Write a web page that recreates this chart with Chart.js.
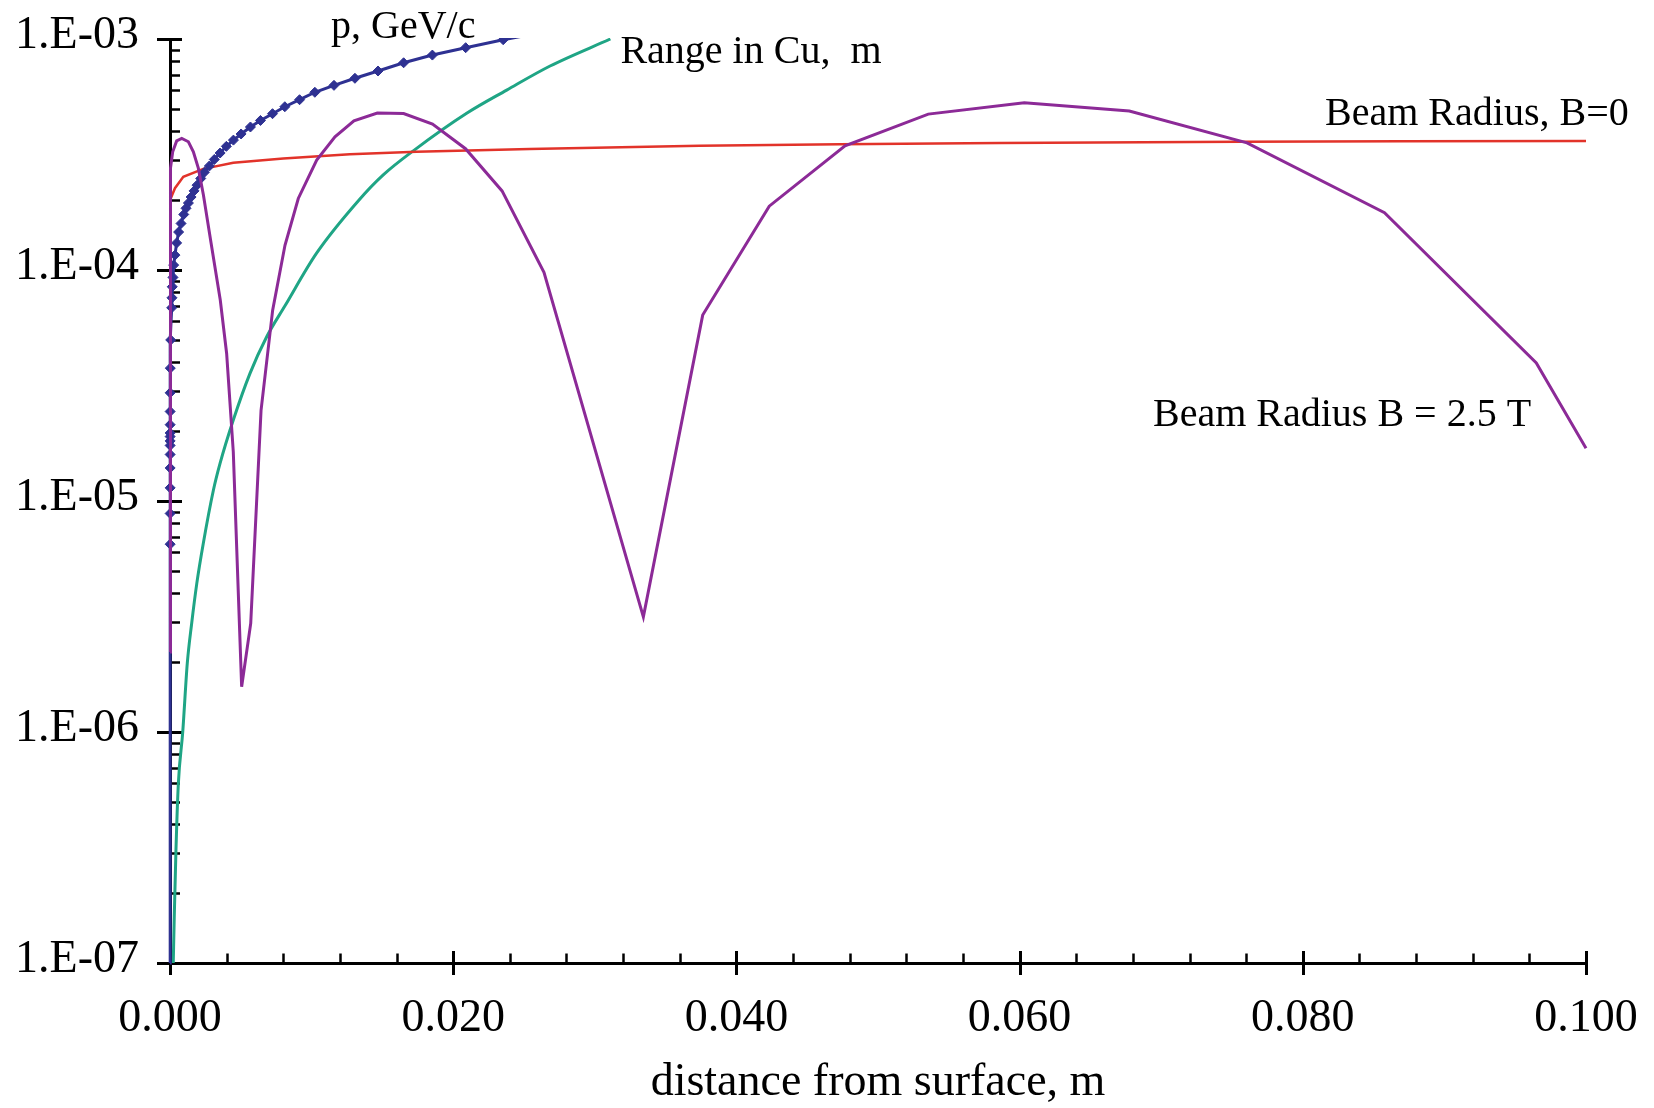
<!DOCTYPE html>
<html>
<head>
<meta charset="utf-8">
<title>Beam radius and momentum vs depth in copper</title>
<script src="https://cdn.jsdelivr.net/npm/chart.js@4.4.1/dist/chart.umd.min.js"></script>
<style>
  html, body { margin: 0; padding: 0; background: #ffffff; }
  #wrap { width: 1654px; height: 1108px; }
</style>
</head>
<body>
<div id="wrap"><canvas id="chart" width="1654" height="1108"></canvas></div>
<script>
// ---- data ----------------------------------------------------------------
// momentum p (GeV/c) vs distance from surface (m)
const momDist = [0, 0.00001, 0.00001, 0.00001, 0.00001, 0.00001, 0.00001, 0.00001, 0.00001,
  0.00001, 0.00001, 0.00001, 0.00001, 0.00002, 0.00005, 0.00012, 0.00014, 0.00016, 0.00021,
  0.00026, 0.00035, 0.00047, 0.00061, 0.00078, 0.00097, 0.00113, 0.00130, 0.00149, 0.00170,
  0.00191, 0.00217, 0.00243, 0.00278, 0.00313, 0.00354, 0.00398, 0.00448, 0.00502, 0.00568,
  0.00639, 0.00724, 0.00811, 0.00915, 0.01023, 0.01158, 0.01306, 0.01469, 0.0165, 0.01853,
  0.02088, 0.02353, 0.0264];
const momValue = [1e-7, 6.50e-6, 8.83e-6, 1.14e-5, 1.39e-5, 1.59e-5, 1.74e-5, 1.82e-5, 1.90e-5,
  1.97e-5, 2.14e-5, 2.44e-5, 2.94e-5, 3.76e-5, 4.98e-5, 6.86e-5, 7.58e-5, 8.46e-5, 9.29e-5,
  1.05e-4, 1.16e-4, 1.31e-4, 1.46e-4, 1.59e-4, 1.74e-4, 1.85e-4, 1.95e-4, 2.07e-4, 2.20e-4,
  2.33e-4, 2.49e-4, 2.65e-4, 2.82e-4, 3.01e-4, 3.21e-4, 3.43e-4, 3.65e-4, 3.88e-4, 4.16e-4,
  4.44e-4, 4.75e-4, 5.09e-4, 5.46e-4, 5.88e-4, 6.30e-4, 6.76e-4, 7.27e-4, 7.89e-4, 8.52e-4,
  9.17e-4, 9.93e-4, 1.07e-3];

// residual range in Cu (m)
const rangeDist = [0.00023, 0.0003, 0.00042, 0.00059, 0.0009, 0.00122, 0.00153, 0.00189,
  0.00235, 0.00306, 0.00353, 0.00447, 0.00565, 0.00683, 0.00811, 0.01034, 0.01332, 0.01506,
  0.01718, 0.02095, 0.02378, 0.02684, 0.0311];
const rangeValue = [1.0e-7, 1.58e-7, 3.07e-7, 5.98e-7, 1.0e-6, 1.98e-6, 2.95e-6, 4.39e-6,
  6.55e-6, 1.11e-5, 1.45e-5, 2.24e-5, 3.57e-5, 5.14e-5, 6.98e-5, 1.18e-4, 2.00e-4, 2.58e-4,
  3.28e-4, 4.77e-4, 6.01e-4, 7.64e-4, 1.0e-3];

// beam radius with no field (m)
const radius0Dist = [0, 0.00005, 0.00035, 0.00094, 0.00235, 0.00447, 0.0080, 0.0127, 0.0174,
  0.0254, 0.0374, 0.0473, 0.0586, 0.0756, 0.0869, 0.1];
const radius0Value = [1.12e-4, 2.04e-4, 2.26e-4, 2.53e-4, 2.74e-4, 2.91e-4, 3.04e-4, 3.17e-4,
  3.25e-4, 3.34e-4, 3.45e-4, 3.50e-4, 3.55e-4, 3.59e-4, 3.61e-4, 3.62e-4];

// beam radius in a 2.5 T field (m)
const radiusBDist = [0, 0.00002, 0.00005, 0.00019, 0.00047, 0.00083, 0.0013, 0.00165, 0.0020,
  0.00236, 0.0029, 0.00355, 0.0040, 0.00447, 0.00506, 0.0057, 0.00643, 0.00725, 0.00812,
  0.00906, 0.01036, 0.01165, 0.01299, 0.01464, 0.0165, 0.01854, 0.02087, 0.02345, 0.02641,
  0.03343, 0.03762, 0.04232, 0.04767, 0.05355, 0.06033, 0.06775, 0.07606, 0.08577, 0.09649,
  0.1];
const radiusBValue = [2.22e-6, 2.01e-4, 2.76e-4, 3.25e-4, 3.62e-4, 3.71e-4, 3.59e-4, 3.25e-4,
  2.76e-4, 2.11e-4, 1.31e-4, 7.41e-5, 4.35e-5, 1.63e-5, 1.57e-6, 2.95e-6, 2.47e-5, 6.70e-5,
  1.28e-4, 2.04e-4, 2.99e-4, 3.77e-4, 4.42e-4, 4.78e-4, 4.76e-4, 4.28e-4, 3.35e-4, 2.20e-4,
  9.78e-5, 3.15e-6, 6.38e-5, 1.89e-4, 3.45e-4, 4.73e-4, 5.30e-4, 4.88e-4, 3.55e-4, 1.77e-4,
  3.96e-5, 1.69e-5];

// axis ticks
const xTickValues = [0, 0.02, 0.04, 0.06, 0.08, 0.1];
const xTickLabels = ['0.000', '0.020', '0.040', '0.060', '0.080', '0.100'];
const yTickValues = [1e-7, 1e-6, 1e-5, 1e-4, 1e-3];
const yTickLabels = ['1.E-07', '1.E-06', '1.E-05', '1.E-04', '1.E-03'];

// curve labels, anchored in data coordinates (left edge, text baseline)
const labelTexts = ['p, GeV/c', 'Range in Cu,  m', 'Beam Radius, B=0', 'Beam Radius B = 2.5 T'];
const labelX = [0.01137, 0.03181, 0.08157, 0.06942];
const labelY = [1.01e-3, 7.85e-4, 4.24e-4, 2.11e-5];

// ---- drawing --------------------------------------------------------------
const FONT = "'Liberation Serif', 'Times New Roman', serif";
const X_MINOR_STEP = 0.004;

function points(xs, ys) {
  return xs.map((x, i) => ({ x: x, y: ys[i] }));
}

// tick marks: majors cross the axis line, minors point into the plot
const axisTicks = {
  id: 'axisTicks',
  beforeDatasetsDraw(chart) {
    const { ctx, chartArea: a, scales } = chart;
    const xs = scales.x, ys = scales.y;
    const seg = (x1, y1, x2, y2) => {
      ctx.beginPath(); ctx.moveTo(x1, y1); ctx.lineTo(x2, y2); ctx.stroke();
    };
    ctx.save();
    ctx.strokeStyle = '#000';
    ctx.lineCap = 'butt';

    ctx.lineWidth = 2.5;
    const nMinor = Math.round(0.1 / X_MINOR_STEP);
    for (let i = 1; i < nMinor; i++) {
      if (i % 5 === 0) continue;
      const px = Math.round(xs.getPixelForValue(i * X_MINOR_STEP)) + 0.5;
      seg(px, a.bottom, px, a.bottom - 9.5);
    }
    for (let e = -7; e < -3; e++) {
      const d = Math.pow(10, e);
      for (let k = 2; k <= 9; k++) {
        const py = Math.round(ys.getPixelForValue(k * d)) + 0.5;
        seg(a.left, py, a.left + 10, py);
      }
    }

    ctx.lineWidth = 3;
    xTickValues.forEach(v => {
      const px = Math.round(xs.getPixelForValue(v)) + 0.5;
      seg(px, a.bottom - 12, px, a.bottom + 12);
    });
    yTickValues.forEach(v => {
      const py = Math.round(ys.getPixelForValue(v)) + 0.5;
      seg(a.left - 13, py, a.left + 12, py);
    });
    ctx.restore();
  }
};

// text labels next to the curves
const curveLabels = {
  id: 'curveLabels',
  afterDatasetsDraw(chart) {
    const { ctx, scales } = chart;
    ctx.save();
    ctx.fillStyle = '#000';
    ctx.font = '40px ' + FONT;
    ctx.textAlign = 'left';
    ctx.textBaseline = 'alphabetic';
    labelTexts.forEach((t, i) => {
      ctx.fillText(t, scales.x.getPixelForValue(labelX[i]), scales.y.getPixelForValue(labelY[i]));
    });
    ctx.restore();
  }
};

const CLIP = { left: 8, top: 1, right: 6, bottom: 2 };

new Chart(document.getElementById('chart'), {
  type: 'line',
  data: {
    datasets: [
      {
        label: 'Beam Radius B = 2.5 T',
        data: points(radiusBDist, radiusBValue),
        borderColor: '#8c2a97',
        borderWidth: 3,
        pointRadius: 0,
        tension: 0,
        clip: CLIP
      },
      {
        label: 'p, GeV/c',
        data: points(momDist, momValue),
        borderColor: '#2e3192',
        backgroundColor: '#2e3192',
        borderWidth: 3,
        pointStyle: 'rectRot',
        pointRadius: c => (c.raw && c.raw.y > 1e-7 && c.raw.y < 1e-3 ? 5 : 0),
        pointBorderWidth: 1,
        pointBorderColor: '#2e3192',
        tension: 0,
        clip: CLIP
      },
      {
        label: 'Beam Radius, B=0',
        data: points(radius0Dist, radius0Value),
        borderColor: '#e2332a',
        borderWidth: 2.5,
        pointRadius: 0,
        tension: 0,
        clip: CLIP
      },
      {
        label: 'Range in Cu,  m',
        data: points(rangeDist, rangeValue),
        borderColor: '#1fa585',
        borderWidth: 3,
        pointRadius: 0,
        cubicInterpolationMode: 'monotone',
        clip: CLIP
      }
    ]
  },
  options: {
    responsive: false,
    animation: false,
    devicePixelRatio: 1,
    layout: { padding: { left: 0, right: 68, top: 39, bottom: 0 } },
    plugins: {
      legend: { display: false },
      tooltip: { enabled: false }
    },
    scales: {
      x: {
        type: 'linear',
        min: 0,
        max: 0.1,
        afterFit(s) {
          s.height = 145;
          s.paddingLeft = 0;
          s.paddingRight = 0;
        },
        afterBuildTicks(s) { s.ticks = xTickValues.map(v => ({ value: v })); },
        grid: { display: false, drawTicks: false },
        border: { display: true, color: '#000', width: 3 },
        ticks: {
          padding: 28,
          color: '#000',
          maxRotation: 0,
          autoSkip: false,
          font: { family: FONT, size: 46, lineHeight: 1.2 },
          callback: (v, i) => xTickLabels[i]
        },
        title: {
          display: true,
          text: 'distance from surface, m',
          color: '#000',
          font: { family: FONT, size: 46, lineHeight: 1 },
          padding: { top: 0, bottom: 2 }
        }
      },
      y: {
        type: 'logarithmic',
        min: 1e-7,
        max: 1e-3,
        afterFit(s) {
          s.width = 170;
          s.paddingTop = 0;
          s.paddingBottom = 0;
        },
        afterBuildTicks(s) { s.ticks = yTickValues.map(v => ({ value: v })); },
        grid: { display: false, drawTicks: false },
        border: { display: true, color: '#000', width: 3 },
        ticks: {
          padding: 31,
          labelOffset: -3,
          color: '#000',
          autoSkip: false,
          font: { family: FONT, size: 46, lineHeight: 1.2 },
          callback: (v, i) => yTickLabels[i]
        }
      }
    }
  },
  plugins: [axisTicks, curveLabels]
});
</script>
</body>
</html>
